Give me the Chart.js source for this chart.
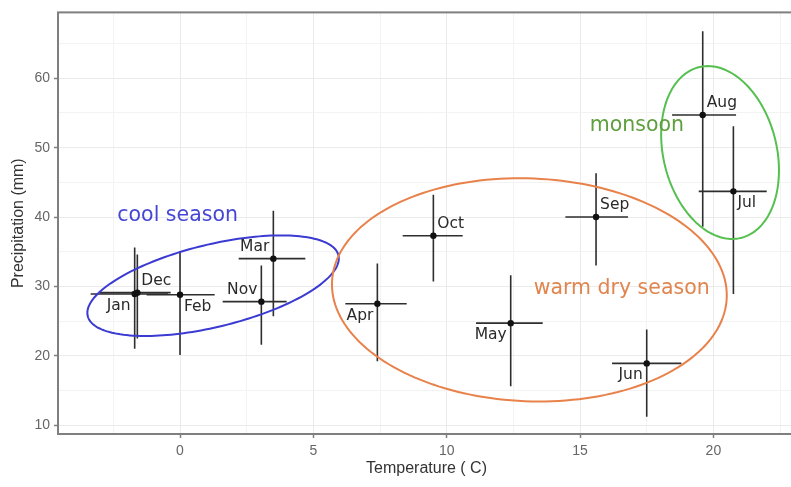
<!DOCTYPE html>
<html>
<head>
<meta charset="utf-8">
<title>Monthly temperature and precipitation</title>
<script src="https://cdn.jsdelivr.net/npm/chart.js@4.4.1/dist/chart.umd.min.js"></script>
<style>
  html, body { margin: 0; padding: 0; background: #fff; overflow: hidden; }
  #chartBox { width: 791px; height: 487px; overflow: hidden; }
</style>
</head>
<body>
<div id="chartBox"><canvas id="climate" width="800" height="487"></canvas></div>
<script>
// monthly means with their spread (temperature in C, precipitation in mm)
const months     = ['Jan', 'Feb', 'Mar', 'Apr', 'May', 'Jun', 'Jul', 'Aug', 'Sep', 'Oct', 'Nov', 'Dec'];
const temp       = [-1.7, 0.0, 3.5, 7.4, 12.4, 17.5, 20.75, 19.6, 15.6, 9.5, 3.05, -1.6];
const tempLow    = [-3.35, -1.25, 2.2, 6.2, 11.1, 16.2, 19.45, 18.45, 14.45, 8.35, 1.6, -3.0];
const tempHigh   = [-0.45, 1.3, 4.7, 8.5, 13.6, 18.8, 22.0, 20.85, 16.8, 10.6, 4.0, -0.35];
const precip     = [28.9, 28.8, 34.0, 27.5, 24.7, 18.9, 43.7, 54.7, 40.0, 37.3, 27.8, 29.1];
const precipLow  = [21.0, 20.1, 25.7, 19.2, 15.6, 11.2, 28.9, 38.6, 33.0, 30.7, 21.6, 22.5];
const precipHigh = [35.6, 35.1, 40.9, 33.3, 31.6, 23.8, 53.1, 66.8, 46.3, 43.2, 33.0, 34.6];

// seasons: ellipse centre and two half-axes, all in data units
const seasons      = ['cool season', 'warm dry season', 'monsoon'];
const seasonX      = [1.24, 13.10, 20.25];
const seasonY      = [30.1, 29.5, 49.3];
const seasonAxisA  = [[4.70, 4.39], [7.40, -1.18], [0.77, -12.32]];
const seasonAxisB  = [[-0.37, 5.77], [0.18, 16.05], [2.07, 1.85]];
const seasonTextX  = [-0.09, 16.56, 17.13];
const seasonTextY  = [40.2, 29.7, 53.2];

// axis ticks
const xTickStep = 2.5;
const yTickStep = 5;
const xLabelEvery = 5;
const yLabelEvery = 10;

// where each month name sits around its point
const labelSide = {
  Jan: 'sw', Feb: 'se', Mar: 'nw', Apr: 'sw', May: 'sw', Jun: 'sw',
  Jul: 'se', Aug: 'ne', Sep: 'ne', Oct: 'ne', Nov: 'nw', Dec: 'ne'
};
const seasonLine = ['#3b3bd3', '#e8814a', '#55bf50'];
const seasonText = ['#4646d6', '#e0854e', '#5e9f3e'];

function stepTicks(scale, step) {
  const ticks = [];
  for (let v = Math.ceil(scale.min / step) * step; v <= scale.max + 1e-9; v += step) {
    ticks.push({ value: Math.round(v * 100) / 100 });
  }
  scale.ticks = ticks;
}

function isMajor(value, every) {
  return Math.abs(value / every - Math.round(value / every)) < 1e-6;
}

const errorBars = {
  id: 'errorBars',
  beforeDatasetsDraw(chart) {
    const { ctx, scales: { x, y } } = chart;
    ctx.save();
    ctx.strokeStyle = '#2e2e2e';
    ctx.lineWidth = 1.6;
    months.forEach((m, i) => {
      const px = x.getPixelForValue(temp[i]);
      const py = y.getPixelForValue(precip[i]);
      ctx.beginPath();
      ctx.moveTo(x.getPixelForValue(tempLow[i]), py);
      ctx.lineTo(x.getPixelForValue(tempHigh[i]), py);
      ctx.moveTo(px, y.getPixelForValue(precipLow[i]));
      ctx.lineTo(px, y.getPixelForValue(precipHigh[i]));
      ctx.stroke();
    });
    ctx.restore();
  }
};

const seasonRings = {
  id: 'seasonRings',
  afterDatasetsDraw(chart) {
    const { ctx, chartArea, scales: { x, y } } = chart;
    ctx.save();
    ctx.beginPath();
    ctx.rect(chartArea.left, chartArea.top, chartArea.right - chartArea.left, chartArea.bottom - chartArea.top);
    ctx.clip();
    seasons.forEach((name, s) => {
      const a = seasonAxisA[s];
      const b = seasonAxisB[s];
      ctx.beginPath();
      for (let k = 0; k <= 180; k++) {
        const t = (k / 180) * Math.PI * 2;
        const dx = seasonX[s] + a[0] * Math.cos(t) + b[0] * Math.sin(t);
        const dy = seasonY[s] + a[1] * Math.cos(t) + b[1] * Math.sin(t);
        const px = x.getPixelForValue(dx);
        const py = y.getPixelForValue(dy);
        if (k === 0) ctx.moveTo(px, py); else ctx.lineTo(px, py);
      }
      ctx.closePath();
      ctx.strokeStyle = seasonLine[s];
      ctx.lineWidth = 2;
      ctx.stroke();

      ctx.fillStyle = seasonText[s];
      ctx.font = '20.5px "DejaVu Sans", Verdana, sans-serif';
      ctx.textAlign = 'center';
      ctx.textBaseline = 'middle';
      ctx.fillText(name, x.getPixelForValue(seasonTextX[s]), y.getPixelForValue(seasonTextY[s]));
    });
    ctx.restore();
  }
};

const monthLabels = {
  id: 'monthLabels',
  afterDatasetsDraw(chart) {
    const { ctx, scales: { x, y } } = chart;
    ctx.save();
    ctx.fillStyle = '#2a2a2a';
    ctx.font = '15.5px "DejaVu Sans", Verdana, sans-serif';
    ctx.textBaseline = 'middle';
    months.forEach((m, i) => {
      const side = labelSide[m];
      const px = x.getPixelForValue(temp[i]);
      const py = y.getPixelForValue(precip[i]);
      const east = side.includes('e');
      ctx.textAlign = east ? 'left' : 'right';
      ctx.fillText(m, px + (east ? 4 : -4), py + (side.includes('n') ? -12 : 12));
    });
    ctx.restore();
  }
};

// panel frame drawn on top, like the grey box round the plot
const panelFrame = {
  id: 'panelFrame',
  afterDraw(chart) {
    const { ctx, chartArea } = chart;
    ctx.save();
    ctx.strokeStyle = '#7f7f7f';
    ctx.lineWidth = 2;
    ctx.strokeRect(chartArea.left, chartArea.top, chartArea.right - chartArea.left, chartArea.bottom - chartArea.top);
    ctx.restore();
  }
};

const tickFont = { family: '"Liberation Sans", Arial, sans-serif', size: 14 };
const titleFont = { family: '"Liberation Sans", Arial, sans-serif', size: 16 };

new Chart(document.getElementById('climate'), {
  type: 'scatter',
  data: {
    datasets: [{
      label: 'Monthly mean',
      data: months.map((m, i) => ({ x: temp[i], y: precip[i] })),
      backgroundColor: '#111',
      borderWidth: 0,
      pointRadius: 3.2
    }]
  },
  options: {
    responsive: false,
    animation: false,
    layout: { padding: { top: 7, right: 5, left: 0, bottom: 0 } },
    plugins: { legend: { display: false }, tooltip: { enabled: false } },
    scales: {
      x: {
        type: 'linear',
        min: -4.575,
        max: 23.06,
        afterBuildTicks: scale => stepTicks(scale, xTickStep),
        afterFit: scale => { scale.height = 53; },
        border: { display: false },
        grid: {
          color: c => isMajor(c.tick.value, xLabelEvery) ? '#ebebeb' : '#f3f3f3',
          lineWidth: 1,
          tickLength: 4,
          tickWidth: 1.5,
          tickColor: c => isMajor(c.tick.value, xLabelEvery) ? '#7f7f7f' : 'rgba(0,0,0,0)'
        },
        ticks: {
          autoSkip: false,
          maxRotation: 0,
          padding: 5,
          color: '#666',
          font: tickFont,
          callback: v => isMajor(v, xLabelEvery) ? String(v) : ''
        },
        title: {
          display: true,
          text: 'Temperature ( C)',
          color: '#333',
          font: titleFont,
          padding: { top: 0, bottom: 9 }
        }
      },
      y: {
        type: 'linear',
        min: 8.72,
        max: 69.5,
        afterBuildTicks: scale => stepTicks(scale, yTickStep),
        afterFit: scale => { scale.width = 58; },
        border: { display: false },
        grid: {
          color: c => isMajor(c.tick.value, yLabelEvery) ? '#ebebeb' : '#f3f3f3',
          lineWidth: 1,
          tickLength: 4,
          tickWidth: 1.5,
          tickColor: c => isMajor(c.tick.value, yLabelEvery) ? '#7f7f7f' : 'rgba(0,0,0,0)'
        },
        ticks: {
          autoSkip: false,
          padding: 4,
          color: '#666',
          font: tickFont,
          callback: v => isMajor(v, yLabelEvery) ? String(v) : ''
        },
        title: {
          display: true,
          text: 'Precipitation (mm)',
          color: '#333',
          font: titleFont,
          padding: { top: 9, bottom: 0 }
        }
      }
    }
  },
  plugins: [errorBars, seasonRings, monthLabels, panelFrame]
});
</script>
</body>
</html>
